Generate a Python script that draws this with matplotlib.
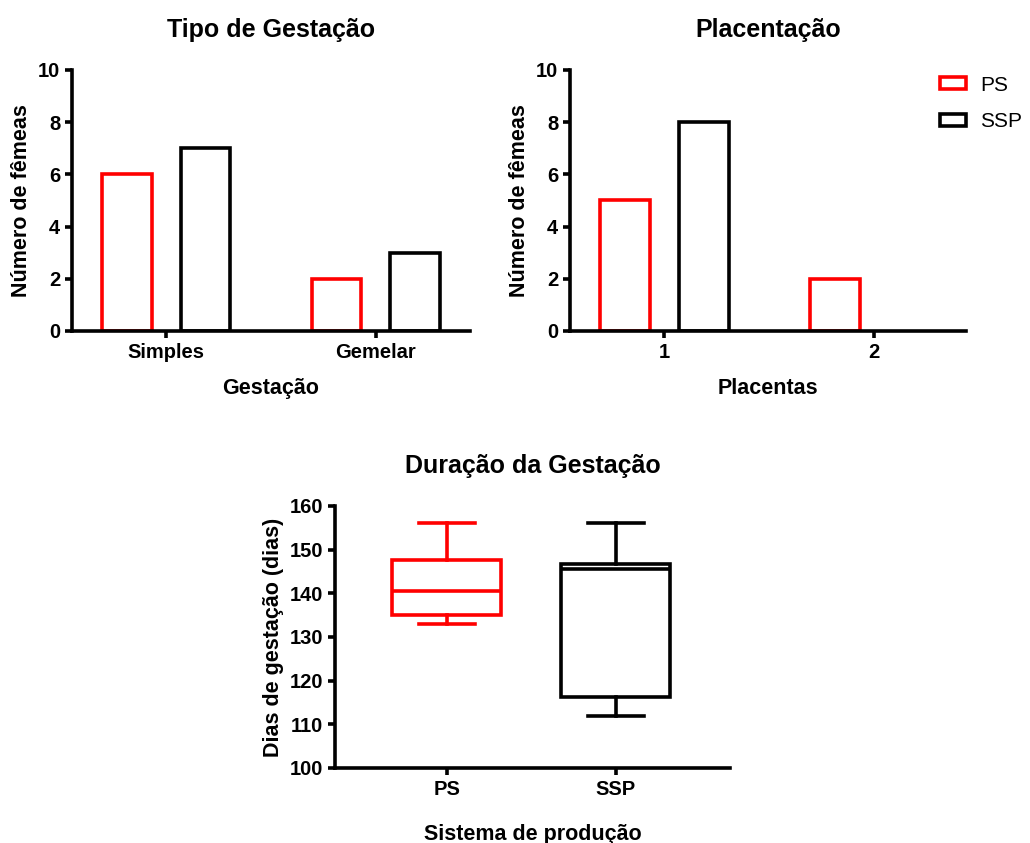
import matplotlib.pyplot as plt
import numpy as np

plt.rcParams['font.family'] = ['Liberation Sans', 'DejaVu Sans']

# dados
gest_cats = ['Simples', 'Gemelar']
gest_ps = [6, 2]
gest_ssp = [7, 3]

plac_cats = ['1', '2']
plac_ps = [5, 2]
plac_ssp = [8, 0]

# duração da gestação (dias): min, Q1, mediana, Q3, max
dur_labels = ['PS', 'SSP']
dur_min = [133, 112]
dur_q1 = [135, 116.3]
dur_med = [140.5, 145.6]
dur_q3 = [147.7, 146.8]
dur_max = [156, 156]

RED = '#ff0000'
LW = 2.6
TICK_FS = 14.5
LABEL_FS = 15.5
TITLE_FS = 18


def style_axes(ax):
    for s in ['top', 'right']:
        ax.spines[s].set_visible(False)
    for s in ['left', 'bottom']:
        ax.spines[s].set_linewidth(LW)
    ax.tick_params(width=LW, length=5, labelsize=TICK_FS)
    for lab in ax.get_xticklabels() + ax.get_yticklabels():
        lab.set_fontweight('bold')


def bar_panel(ax, cats, ps, ssp, title, xlabel):
    x = np.arange(len(cats))
    w = 0.238
    b1 = ax.bar(x - 0.188, ps, w, facecolor='white', edgecolor=RED, linewidth=LW, label='PS')
    b2 = ax.bar(x + 0.188, ssp, w, facecolor='white', edgecolor='black', linewidth=LW, label='SSP')
    # barras de altura zero não aparecem
    for rect in list(b1) + list(b2):
        if rect.get_height() == 0:
            rect.set_visible(False)
    ax.set_xticks(x)
    ax.set_xticklabels(cats)
    ax.set_xlim(-0.448, 1.448)
    ax.set_ylim(0, 10)
    ax.set_yticks([0, 2, 4, 6, 8, 10])
    ax.set_title(title, fontsize=TITLE_FS, fontweight='bold', pad=24)
    ax.set_xlabel(xlabel, fontsize=LABEL_FS, fontweight='bold', labelpad=12)
    ax.set_ylabel('Número de fêmeas', fontsize=LABEL_FS, fontweight='bold', labelpad=4)
    style_axes(ax)


fig = plt.figure(figsize=(10.3, 8.43), dpi=100)

ax1 = fig.add_axes([0.0699, 0.6074, 0.3864, 0.3096])
bar_panel(ax1, gest_cats, gest_ps, gest_ssp, 'Tipo de Gestação', 'Gestação')

ax2 = fig.add_axes([0.5534, 0.6074, 0.3845, 0.3096])
bar_panel(ax2, plac_cats, plac_ps, plac_ssp, 'Placentação', 'Placentas')
ax2.set_xlim(-0.448, 1.438)
ax2.legend(loc='upper left', bbox_to_anchor=(0.888, 1.05), frameon=False,
           fontsize=15, handlelength=1.25, handleheight=0.5, labelspacing=0.85,
           handletextpad=0.65)

ax3 = fig.add_axes([0.3252, 0.0890, 0.3835, 0.3108])
stats = []
for i in range(len(dur_labels)):
    stats.append({'whislo': dur_min[i], 'q1': dur_q1[i], 'med': dur_med[i],
                  'q3': dur_q3[i], 'whishi': dur_max[i], 'label': dur_labels[i]})
bp = ax3.bxp(stats, positions=[0, 1], widths=0.645, showfliers=False,
             patch_artist=True)
colors = [RED, 'black']
for i, c in enumerate(colors):
    bp['boxes'][i].set(facecolor='white', edgecolor=c, linewidth=LW)
    bp['medians'][i].set(color=c, linewidth=LW)
    for j in (2 * i, 2 * i + 1):
        bp['whiskers'][j].set(color=c, linewidth=LW)
        bp['caps'][j].set(color=c, linewidth=LW)
for cap in bp['caps']:
    xd = cap.get_xdata()
    m = (xd[0] + xd[1]) / 2
    cap.set_xdata([m - 0.166, m + 0.166])
ax3.set_xlim(-0.663, 1.675)
ax3.set_ylim(100, 160)
ax3.set_yticks(np.arange(100, 161, 10))
ax3.set_title('Duração da Gestação', fontsize=TITLE_FS, fontweight='bold', pad=24)
ax3.set_xlabel('Sistema de produção', fontsize=LABEL_FS, fontweight='bold', labelpad=18)
ax3.set_ylabel('Dias de gestação (dias)', fontsize=LABEL_FS, fontweight='bold', labelpad=4)
style_axes(ax3)

fig.savefig('out.png', dpi=100)
